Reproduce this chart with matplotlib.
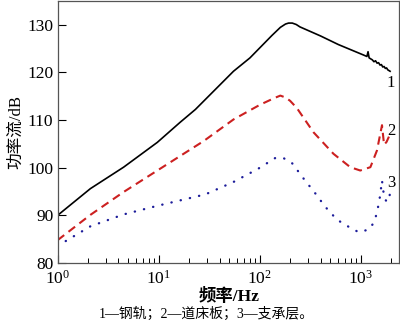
import matplotlib
matplotlib.use("Agg")
import matplotlib.pyplot as plt
from matplotlib.ticker import LogLocator, NullFormatter

plt.rcParams['font.family'] = ['Liberation Serif', 'Noto Sans CJK SC']
plt.rcParams['mathtext.fontset'] = 'stix'

# Power flow (dB) versus frequency (Hz) for the three track layers
rail_f = [1, 2.11, 4.5, 9.7, 16.3, 23.1, 55, 80, 132, 160, 180, 193, 210, 230, 250,
          400, 600, 1066, 1150, 1180, 1210, 1300, 1350, 1400, 1450, 1500, 1550, 1600,
          1650, 1700, 1750, 1800, 1850, 1950]
rail_db = [90.0, 95.6, 100.1, 105.3, 109.5, 112.2, 120.2, 123.0, 127.7, 129.4, 130.1,
           130.3, 130.3, 130.0, 129.5, 127.6, 125.8, 123.6, 123.3, 124.3, 123.0, 122.6,
           122.2, 122.4, 121.9, 122.0, 121.5, 121.6, 121.1, 121.2, 120.8, 120.9, 120.5,
           120.2]

slab_f = [1, 2.11, 4.5, 9.7, 28, 55, 101, 140, 160, 180, 200, 233, 341, 537, 787,
          988, 1245, 1446, 1622, 1700, 1800, 1900]
slab_db = [84.8, 90.1, 94.9, 99.4, 105.6, 110.1, 113.2, 114.6, 115.1, 114.7, 114.0,
           112.5, 107.4, 102.9, 100.1, 99.4, 100.1, 103.6, 108.9, 104.8, 105.4, 106.5]

base_f = [1, 2.11, 4.5, 9.7, 29, 55, 97, 142, 172, 208, 272, 355, 445, 581, 787,
          950, 1195, 1340, 1446, 1550, 1622, 1660, 1720, 1820, 1950]
base_db = [83.6, 87.7, 90.2, 92.0, 94.4, 97.0, 99.8, 102.0, 102.0, 101.0, 97.7, 94.6,
           91.8, 89.1, 87.4, 86.5, 87.0, 88.4, 90.5, 94.0, 97.3, 95.5, 93.5, 92.8, 94.5]

curve_labels = ['1', '2', '3']
curve_label_pos = [(1960, 117.8), (2000, 107.6), (2000, 96.7)]

y_ticks = [80, 90, 100, 110, 120, 130]

fig = plt.figure(figsize=(4.0, 3.26), dpi=100)
ax = fig.add_axes([0.144, 0.193, 0.854, 0.805])

ax.plot(rail_f, rail_db, color='black', lw=1.2, solid_joinstyle='round')
ax.plot(slab_f, slab_db, color='#cc2020', lw=1.5, dashes=(4, 2.6))
ax.plot(base_f, base_db, color='#1c1c9a', lw=1.7, dashes=(0.1, 3.9),
        dash_capstyle='round')

ax.set_xscale('log')
ax.set_xlim(1, 2400)
ax.set_ylim(80, 135)
ax.set_yticks(y_ticks)
ax.xaxis.set_major_locator(LogLocator(base=10, numticks=10))
ax.xaxis.set_minor_locator(LogLocator(base=10, subs=range(2, 10), numticks=20))
ax.xaxis.set_minor_formatter(NullFormatter())

ax.tick_params(axis='both', which='major', direction='in', length=6, width=0.8,
               labelsize=12.5, colors='black')
ax.tick_params(axis='y', which='major', pad=3)
ax.tick_params(axis='x', which='major', pad=5)
ax.tick_params(axis='x', which='minor', direction='in', length=3.5, width=0.7)
ax.tick_params(axis='y', which='minor', left=False)
for side in ax.spines.values():
    side.set_color('#555555')
    side.set_linewidth(0.9)

for lbl, (fx, vy) in zip(curve_labels, curve_label_pos):
    ax.text(fx, vy, lbl, fontsize=12, ha='center', va='center')

ax.set_ylabel('功率流/dB', fontsize=12, labelpad=2)
fig.text(0.572, 0.089, '频率/Hz', fontsize=12.5, ha='center', va='center',
         fontweight='bold')
fig.text(0.515, 0.037, '1—钢轨；2—道床板；3—支承层。', fontsize=10,
         ha='center', va='center')

fig.savefig('out.png', dpi=100)
